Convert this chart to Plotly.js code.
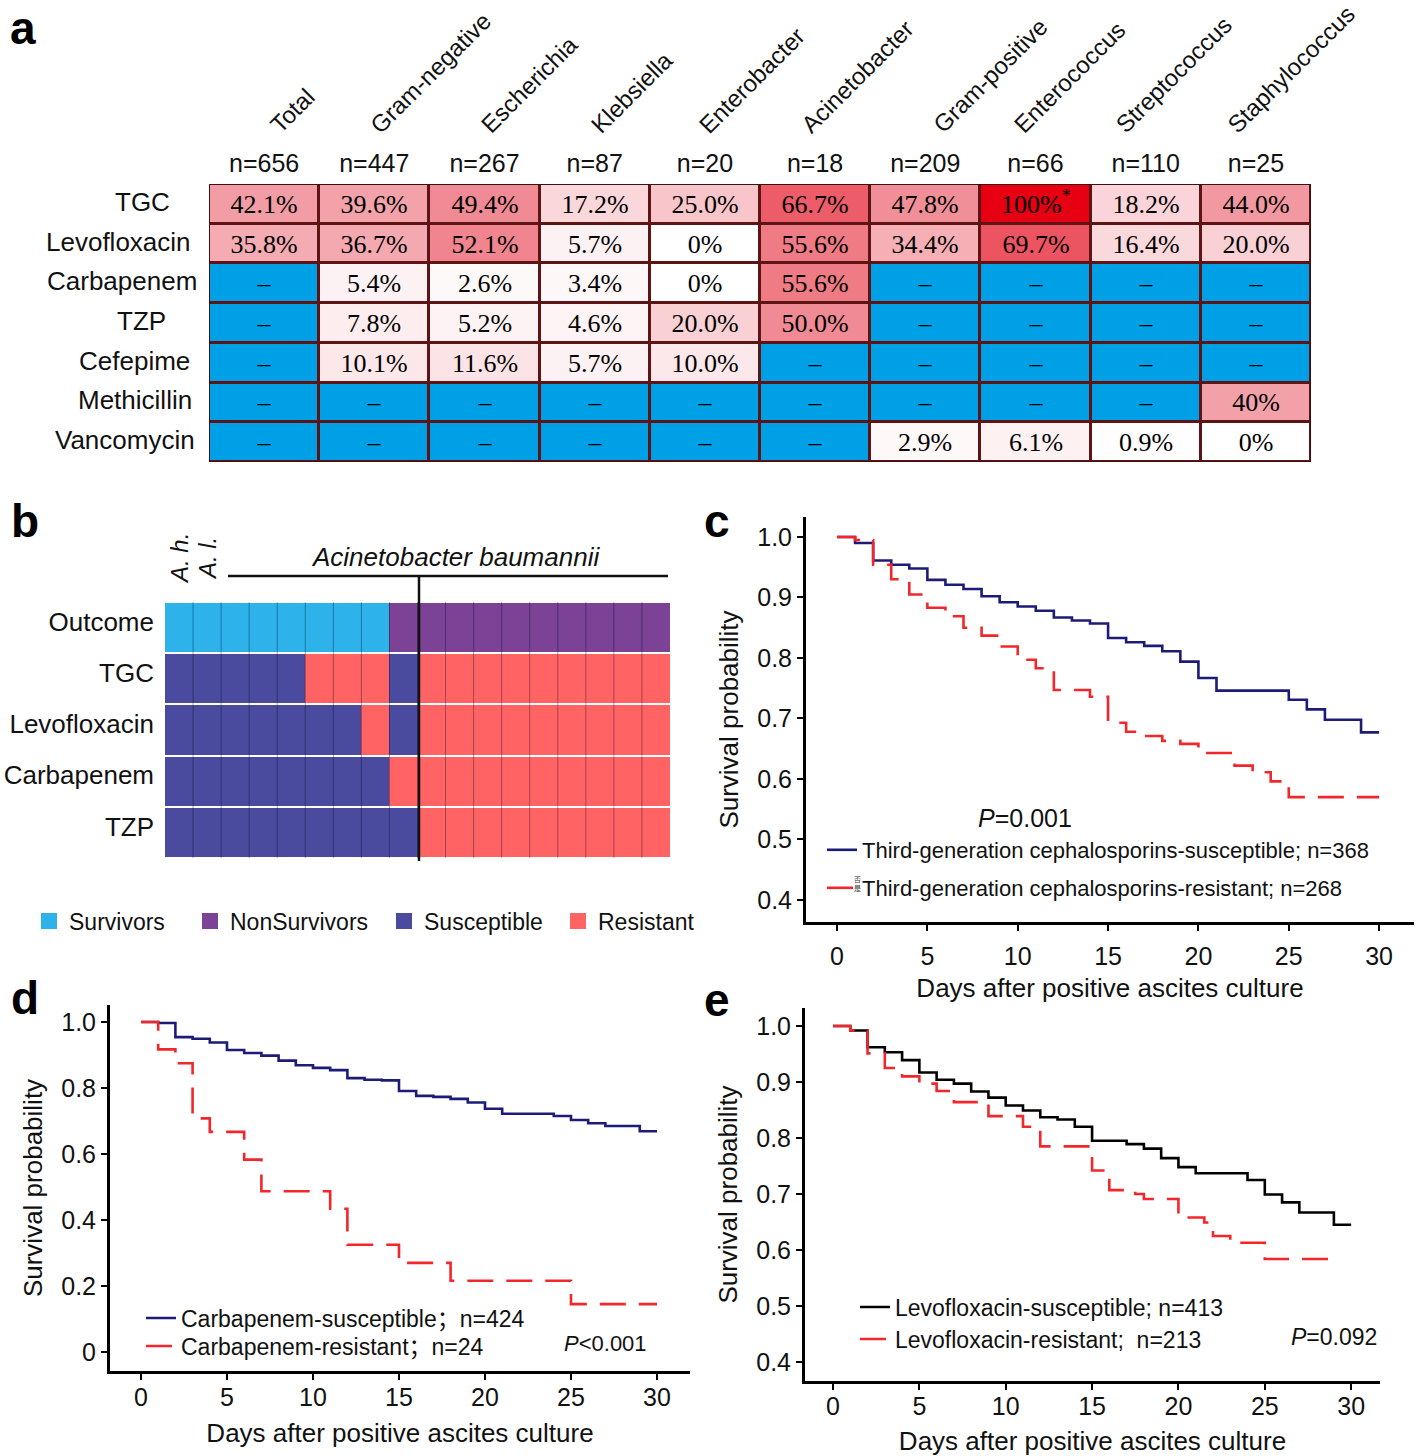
<!DOCTYPE html>
<html><head><meta charset="utf-8">
<script src="https://cdn.plot.ly/plotly-3.0.1.min.js"></script>
<style>html,body{margin:0;padding:0;background:#fff}</style>
</head><body>
<div id="chart" style="width:1418px;height:1456px"></div>
<script>
// ================= DATA =================
// Panel a: resistance rates (displayed strings; '' = not tested)
const groups = ['Total','Gram-negative','Escherichia','Klebsiella','Enterobacter','Acinetobacter','Gram-positive','Enterococcus','Streptococcus','Staphylococcus'];
const groupN = ['n=656','n=447','n=267','n=87','n=20','n=18','n=209','n=66','n=110','n=25'];
const drugs = ['TGC','Levofloxacin','Carbapenem','TZP','Cefepime','Methicillin','Vancomycin'];
const resTGC  = ['42.1%','39.6%','49.4%','17.2%','25.0%','66.7%','47.8%','100%','18.2%','44.0%'];
const resLevo = ['35.8%','36.7%','52.1%','5.7%','0%','55.6%','34.4%','69.7%','16.4%','20.0%'];
const resCarb = ['','5.4%','2.6%','3.4%','0%','55.6%','','','',''];
const resTZP  = ['','7.8%','5.2%','4.6%','20.0%','50.0%','','','',''];
const resCef  = ['','10.1%','11.6%','5.7%','10.0%','','','','',''];
const resMeth = ['','','','','','','','','','40%'];
const resVanc = ['','','','','','','2.9%','6.1%','0.9%','0%'];
const starred = [[0,7]]; // TGC / Enterococcus

// Panel b: Acinetobacter isolates (A. h., A. l., 16 x A. baumannii)
const isoOutcome = ['Surv','Surv','Surv','Surv','Surv','Surv','Surv','Surv','Non','Non','Non','Non','Non','Non','Non','Non','Non','Non'];
const isoTGC  = ['S','S','S','S','S','R','R','R','S','R','R','R','R','R','R','R','R','R'];
const isoLevo = ['S','S','S','S','S','S','S','R','S','R','R','R','R','R','R','R','R','R'];
const isoCarb = ['S','S','S','S','S','S','S','S','R','R','R','R','R','R','R','R','R','R'];
const isoTZP  = ['S','S','S','S','S','S','S','S','S','R','R','R','R','R','R','R','R','R'];
const bRows = ['Outcome','TGC','Levofloxacin','Carbapenem','TZP'];

// Panel c: third-generation cephalosporins
const cSusT = [0,1,2,3,4,5,6,7,8,9,10,11,12,13,14,15,16,17,18,19,20,21,25,26,27,29,30];
const cSusS = [1.0,0.990,0.961,0.954,0.948,0.929,0.921,0.914,0.902,0.892,0.885,0.878,0.867,0.862,0.857,0.833,0.826,0.820,0.811,0.794,0.767,0.746,0.731,0.715,0.698,0.677,0.677];
const cResT = [0,1,2,3,4,5,6,7,8,9,10,11,12,14,15,16,17,18,19,20,22,23,24,25,30];
const cResS = [1.0,0.995,0.954,0.930,0.905,0.883,0.869,0.850,0.837,0.819,0.797,0.783,0.747,0.736,0.693,0.678,0.671,0.663,0.658,0.643,0.622,0.611,0.596,0.570,0.570];

// Panel d: carbapenem
const dSusT = [0,1,2,3,4,5,6,7,8,9,10,11,12,13,14,15,16,17,18,19,20,21,24,25,26,27,29,30];
const dSusS = [1.0,0.997,0.954,0.949,0.938,0.915,0.906,0.898,0.883,0.869,0.861,0.854,0.830,0.825,0.823,0.791,0.776,0.773,0.767,0.756,0.737,0.722,0.715,0.703,0.693,0.685,0.669,0.669];
const dResT = [0,1,2,3,4,6,7,11,12,15,18,25,30];
const dResS = [1.0,0.917,0.875,0.708,0.667,0.583,0.487,0.434,0.325,0.270,0.216,0.145,0.145];

// Panel e: levofloxacin
const eSusT = [0,1,2,3,4,5,6,7,8,9,10,11,12,13,14,15,17,18,19,20,21,24,25,26,27,29,30];
const eSusS = [1.0,0.992,0.962,0.953,0.939,0.917,0.904,0.897,0.883,0.872,0.858,0.849,0.837,0.833,0.820,0.795,0.789,0.781,0.764,0.748,0.737,0.725,0.699,0.685,0.667,0.645,0.645];
const eResT = [0,1,2,3,4,5,6,7,9,11,12,15,16,17.5,18,20,21.5,22,23,25,29];
const eResS = [1.0,0.992,0.951,0.925,0.910,0.897,0.884,0.864,0.839,0.820,0.785,0.742,0.707,0.700,0.691,0.658,0.649,0.625,0.613,0.584,0.584];

// ================= BUILD =================
const W = 1418, H = 1456;
const px = v => v / W, py = v => 1 - v / H;
const FONT = 'Liberation Sans, Arial, sans-serif';
const LFONT = 'Liberation Sans, Noto Sans CJK SC, sans-serif';
const NAVY = '#1c1c78', RED = '#f2262b';

// panel a matrix
const aRows = [resTGC,resLevo,resCarb,resTZP,resCef,resMeth,resVanc];
const aZ = aRows.map(r => r.map(s => s === '' ? -10 : parseFloat(s)));
const aText = aRows.map((r,i) => r.map((s,j) => {
  if (s === '') return '–';
  const star = starred.some(p => p[0]===i && p[1]===j);
  return star ? s + '<sup>*</sup>' : s;
}));
const colIdx = groups.map((g,i) => i);
const rowIdx = drugs.map((d,i) => i);
// layout nudges (px) for the row labels and slanted column headers of panel a
const rowLabelCenter = [142,118,122,141,134,135,125];
const headerShift = [-2,-12,-12,-12,-14,-22,0,-30,-38,-37];

// panel b matrix
const codeMap = {Surv:0, Non:1, S:2, R:3};
const bZ = [isoOutcome,isoTGC,isoLevo,isoCarb,isoTZP].map(r => r.map(v => codeMap[v]));
const isoIdx = isoOutcome.map((v,i) => i);

const traces = [];
traces.push({
  type:'heatmap', x: colIdx, y: rowIdx, z: aZ, text: aText, texttemplate:'%{text}',
  textfont:{family:'Liberation Serif, Times New Roman, serif', size:26, color:'#000'},
  zmin:-10, zmax:100, showscale:false, xgap:3, ygap:3, hoverinfo:'skip',
  colorscale:[[0,'#00a0e6'],[0.09,'#00a0e6'],[0.0909,'#ffffff'],[0.5455,'#f08a94'],[1,'#e60012']],
  xaxis:'x', yaxis:'y'
});
traces.push({
  type:'heatmap', x: isoIdx, y: bRows.map((r,i)=>i), z: bZ, zmin:0, zmax:3, showscale:false,
  xgap:0, ygap:2, hoverinfo:'skip',
  colorscale:[[0,'#2eb2ea'],[0.1666,'#2eb2ea'],[0.1667,'#7b4296'],[0.5,'#7b4296'],[0.5001,'#4a4a9e'],[0.8333,'#4a4a9e'],[0.8334,'#ff6363'],[1,'#ff6363']],
  xaxis:'x2', yaxis:'y2'
});
// legend entries for panel b
const bLegend = [['Survivors','#2eb2ea','legend7'],['NonSurvivors','#7b4296','legend8'],['Susceptible','#4a4a9e','legend9'],['Resistant','#ff6363','legend10']];
bLegend.forEach(([name,col,lg]) => traces.push({
  type:'scatter', mode:'markers', x:[null], y:[null], name, legend: lg, showlegend:true,
  marker:{symbol:'square', size:24, color:col}, xaxis:'x2', yaxis:'y2', hoverinfo:'skip'
}));

function km(t, s, name, color, dash, xa, ya, lg) {
  return {type:'scatter', mode:'lines', x:t, y:s, name, legend:lg, showlegend:true,
    line:{shape:'hv', color, width:2.6, dash}, xaxis:xa, yaxis:ya, hoverinfo:'skip'};
}
const DASH = '26px,13px';
traces.push(km(cSusT,cSusS,'Third-generation cephalosporins-susceptible; n=368',NAVY,'solid','x3','y3','legend'));
traces.push(km(cResT,cResS,'Third-generation cephalosporins-resistant; n=268',RED,DASH,'x3','y3','legend2'));
traces.push(km(dSusT,dSusS,'Carbapenem-susceptible；n=424',NAVY,'solid','x4','y4','legend3'));
traces.push(km(dResT,dResS,'Carbapenem-resistant；n=24',RED,DASH,'x4','y4','legend4'));
traces.push(km(eSusT,eSusS,'Levofloxacin-susceptible; n=413','#000','solid','x5','y5','legend5'));
traces.push(km(eResT,eResS,'Levofloxacin-resistant;  n=213',RED,DASH,'x5','y5','legend6'));

const dayTicks = [0,5,10,15,20,25,30];
function kmX(domain, range, anchor, standoff, tlso) {
  return {domain, range, anchor, showline:true, linecolor:'#000', linewidth:3,
    ticks:'outside', ticklen:6, tickwidth:2, tickcolor:'#000', tickvals:dayTicks,
    tickfont:{family:FONT, size:25, color:'#111'}, ticklabelstandoff:tlso,
    showgrid:false, zeroline:false,
    title:{text:'Days after positive ascites culture', font:{family:FONT,size:26,color:'#111'}, standoff}};
}
function kmY(domain, range, anchor, vals, texts, standoff) {
  return {domain, range, anchor, showline:true, linecolor:'#000', linewidth:3,
    ticks:'outside', ticklen:6, tickwidth:2, tickcolor:'#000', tickvals:vals, ticktext:texts,
    tickfont:{family:FONT, size:25, color:'#111'}, showgrid:false, zeroline:false,
    title:{text:'Survival probability', font:{family:FONT,size:26,color:'#111'}, standoff}};
}
const tenths = [0.4,0.5,0.6,0.7,0.8,0.9,1.0];
const tenthsTxt = tenths.map(v => v.toFixed(1));

function leg(xpx, ypx, size) {
  return {x:px(xpx), y:py(ypx), xanchor:'left', yanchor:'middle', bgcolor:'rgba(0,0,0,0)',
    borderwidth:0, font:{family:LFONT, size, color:'#111'}, itemwidth:30, orientation:'v'};
}

const annotations = [];
// panel letters
[['a',23,28],['b',25,521],['c',717,521],['d',25,998],['e',717,1000]].forEach(([t,x,y]) =>
  annotations.push({text:'<b>'+t+'</b>', x:px(x), y:py(y), xref:'paper', yref:'paper', showarrow:false,
    xanchor:'center', yanchor:'middle', font:{family:FONT, size:46, color:'#000'}}));
// panel a row labels
drugs.forEach((d,i) => annotations.push({text:d, x:px(rowLabelCenter[i]), xref:'paper', y:i, yref:'y', yshift:2, showarrow:false,
  xanchor:'center', yanchor:'middle', font:{family:FONT, size:26, color:'#111'}}));
// panel a rotated column headers
groups.forEach((g,i) => annotations.push({text:g, x:i, xref:'x', xshift:headerShift[i], y:py(141), yref:'paper', showarrow:false,
  xanchor:'left', yanchor:'bottom', textangle:-45, font:{family:FONT, size:24, color:'#111'}}));
// panel b headers
annotations.push({text:'<i>Acinetobacter baumannii</i>', x:px(455), y:py(557), xref:'paper', yref:'paper', showarrow:false,
  xanchor:'center', yanchor:'middle', font:{family:FONT, size:26, color:'#111'}});
[['<i>A. h.</i>',0],['<i>A. l.</i>',1]].forEach(([t,i]) => annotations.push({text:t, x:i, xref:'x2', y:py(559), yref:'paper',
  showarrow:false, textangle:-90, xanchor:'center', yanchor:'middle', font:{family:FONT, size:24, color:'#111'}}));
// P values
annotations.push({text:'<i>P</i>=0.001', x:px(1025), y:py(818), xref:'paper', yref:'paper', showarrow:false,
  xanchor:'center', yanchor:'middle', font:{family:FONT, size:25, color:'#111'}});
annotations.push({text:'<i>P</i>&lt;0.001', x:px(605), y:py(1343), xref:'paper', yref:'paper', showarrow:false,
  xanchor:'center', yanchor:'middle', font:{family:FONT, size:22, color:'#111'}});
annotations.push({text:'<i>P</i>=0.092', x:px(1334), y:py(1337), xref:'paper', yref:'paper', showarrow:false,
  xanchor:'center', yanchor:'middle', font:{family:FONT, size:23, color:'#111'}});
// tiny stray glyphs in panel c legend
annotations.push({text:'否<br>是', x:px(858), y:py(884), xref:'paper', yref:'paper', showarrow:false,
  xanchor:'center', yanchor:'middle', font:{family:'Noto Sans CJK SC', size:7, color:'#333'}});

const shapes = [];
// panel a table background (cell borders) and frame
shapes.push({type:'rect', xref:'x', yref:'y', x0:-0.5, x1:groups.length-0.5, y0:-0.5, y1:drugs.length-0.5,
  fillcolor:'#5e1414', line:{color:'#3c1010', width:2}, layer:'below'});
// panel b column separators
for (let i = 1; i < isoOutcome.length; i++) {
  shapes.push({type:'line', xref:'x2', yref:'y2 domain', x0:i-0.5, x1:i-0.5, y0:0, y1:1,
    line:{color:'rgba(0,0,40,0.35)', width:1}});
}
// panel b: vertical divider and A. baumannii bracket
shapes.push({type:'line', xref:'paper', yref:'paper', x0:px(419), x1:px(419), y0:py(576), y1:py(861), line:{color:'#111', width:2.5}});
shapes.push({type:'line', xref:'paper', yref:'paper', x0:px(228), x1:px(668), y0:py(576), y1:py(576), line:{color:'#111', width:2.5}});

const layout = {
  width:W, height:H, margin:{l:0,r:0,t:0,b:0}, paper_bgcolor:'#fff', plot_bgcolor:'#fff',
  font:{family:FONT, color:'#111'}, showlegend:true,
  xaxis:{domain:[px(209),px(1311)], anchor:'y', side:'top', range:[-0.5,groups.length-0.5],
    tickvals:colIdx, ticktext:groupN, ticks:'', ticklabelstandoff:6, showgrid:false, zeroline:false, showline:false,
    tickfont:{family:FONT, size:25, color:'#111'}},
  yaxis:{domain:[py(462),py(184)], anchor:'x', range:[drugs.length-0.5,-0.5], showticklabels:false,
    showgrid:false, zeroline:false, ticks:''},
  xaxis2:{domain:[px(165),px(670)], anchor:'y2', range:[-0.5,isoOutcome.length-0.5], showticklabels:false,
    showgrid:false, zeroline:false, ticks:''},
  yaxis2:{domain:[py(858),py(602)], anchor:'x2', range:[bRows.length-0.5,-0.5], tickvals:bRows.map((r,i)=>i),
    ticktext:bRows, ticks:'', ticklabelstandoff:10, ticklabelshift:6, showgrid:false, zeroline:false,
    tickfont:{family:FONT, size:26, color:'#111'}},
  xaxis3: kmX([px(806),px(1414)], [-1.716,31.93], 'y3', 10, 4),
  yaxis3: kmY([py(922),py(517)], [0.3636,1.033], 'x3', tenths, tenthsTxt, 12),
  xaxis4: kmX([px(110),px(690)], [-1.802,31.92], 'y4', 14, -4),
  yaxis4: kmY([py(1371),py(1005)], [-0.0576,1.0515], 'x4', [0,0.2,0.4,0.6,0.8,1.0], ['0','0.2','0.4','0.6','0.8','1.0'], 12),
  xaxis5: kmX([px(805),px(1380)], [-1.621,31.67], 'y5', 15, -5),
  yaxis5: kmY([py(1381),py(1008)], [0.3661,1.0321], 'x5', tenths, tenthsTxt, 12),
  legend: leg(822,850,22), legend2: leg(822,888,22),
  legend3: leg(141,1318,23), legend4: leg(141,1346,23),
  legend5: leg(855,1307,23), legend6: leg(855,1339,23),
  legend7: leg(29,921,23), legend8: leg(190,921,23), legend9: leg(384,921,23), legend10: leg(558,921,23),
  annotations, shapes
};

Plotly.newPlot('chart', traces, layout, {staticPlot:true, displayModeBar:false});
</script>
</body></html>
